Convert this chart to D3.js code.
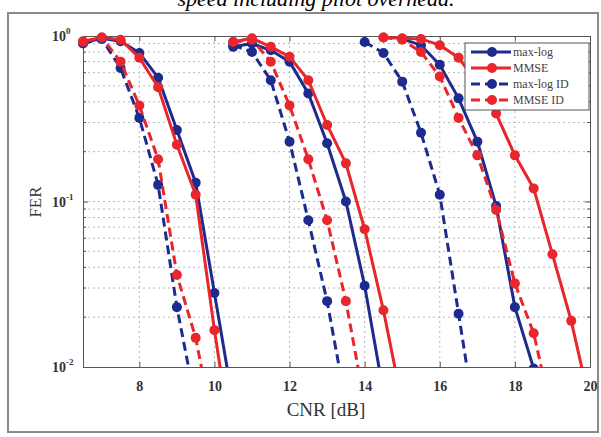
<!DOCTYPE html>
<html>
<head>
<meta charset="utf-8">
<script src="https://cdn.jsdelivr.net/npm/d3@7"></script>
<style>
  body { margin: 0; background: #fff; }
  svg { display: block; }
</style>
</head>
<body>
<svg width="601" height="437"></svg>
<script>
// CNR grids for the three groups of curves
const cnr1 = [6.5, 7, 7.5, 8, 8.5, 9, 9.5, 10, 10.5];
const cnr2 = [10.5, 11, 11.5, 12, 12.5, 13, 13.5, 14, 14.5, 15];
const cnr3 = [14, 14.5, 15, 15.5, 16, 16.5, 17, 17.5, 18, 18.5, 19, 19.5, 20];

// FER values (null = not plotted)
const maxlog1 = [0.91, 0.97, 0.93, 0.79, 0.56, 0.27, 0.13, 0.028, 0.006];
const mmse1 = [0.93, 0.98, 0.95, 0.74, 0.49, 0.22, 0.11, 0.0167, 0.003];
const maxlogID1 = [0.90, 0.96, 0.64, 0.32, 0.126, 0.023, 0.006, null, null];
const mmseID1 = [0.92, 0.98, 0.70, 0.38, 0.18, 0.036, 0.015, 0.004, null];

const maxlog2 = [0.86, 0.90, 0.82, 0.70, 0.45, 0.225, 0.10, 0.031, 0.007, null];
const mmse2 = [0.92, 0.97, 0.86, 0.75, 0.54, 0.29, 0.17, 0.068, 0.022, 0.006];
const maxlogID2 = [0.88, 0.80, 0.54, 0.23, 0.077, 0.025, 0.006, null, null, null];
const mmseID2 = [0.92, 0.95, 0.70, 0.38, 0.18, 0.077, 0.025, 0.006, null, null];

const maxlog3 = [null, null, 0.96, 0.88, 0.67, 0.42, 0.23, 0.094, 0.023, 0.0098, null, null, null];
const mmse3 = [null, 0.98, 0.97, 0.96, 0.88, 0.74, 0.52, 0.34, 0.19, 0.12, 0.048, 0.019, 0.006];
const maxlogID3 = [0.92, 0.79, 0.53, 0.26, 0.11, 0.021, 0.004, null, null, null, null, null, null];
const mmseID3 = [null, 0.98, 0.95, 0.80, 0.57, 0.32, 0.19, 0.089, 0.032, 0.016, 0.005, null, null];

const xTicks = [8, 10, 12, 14, 16, 18, 20];
const yTicks = [0.01, 0.1, 1];
const yTickExp = ['-2', '-1', '0'];

const blue = '#1d2b8e';
const red = '#e8262b';

const series = [
  { name: 'max-log', color: blue, dash: null, curves: [[cnr1, maxlog1], [cnr2, maxlog2], [cnr3, maxlog3]] },
  { name: 'MMSE', color: red, dash: null, curves: [[cnr1, mmse1], [cnr2, mmse2], [cnr3, mmse3]] },
  { name: 'max-log ID', color: blue, dash: '9,5', curves: [[cnr1, maxlogID1], [cnr2, maxlogID2], [cnr3, maxlogID3]] },
  { name: 'MMSE ID', color: red, dash: '9,5', curves: [[cnr1, mmseID1], [cnr2, mmseID2], [cnr3, mmseID3]] },
];

const pLeft = 83, pRight = 590, pTop = 36, pBottom = 367;

const svg = d3.select('svg');

// figure title (cut off at the top) and frame
svg.append('text')
  .attr('x', 316).attr('y', 6)
  .attr('text-anchor', 'middle')
  .style('font-family', '"Liberation Serif", serif')
  .style('font-style', 'italic')
  .style('font-size', '22px')
  .text('speed including pilot overhead.');

svg.append('rect')
  .attr('x', 8).attr('y', 13).attr('width', 590).attr('height', 419)
  .attr('fill', '#fff').attr('stroke', '#8a8a8a').attr('stroke-width', 2);

const x = d3.scaleLinear().domain([6.5, 20]).range([pLeft, pRight]);
const y = d3.scaleLog().domain([0.01, 1]).range([pBottom, pTop]);

svg.append('rect')
  .attr('x', pLeft).attr('y', pTop).attr('width', pRight - pLeft).attr('height', pBottom - pTop)
  .attr('fill', '#fff');

// grid
const minorY = [];
[0.01, 0.1].forEach((d) => { for (let k = 2; k <= 9; k++) minorY.push(d * k); });

svg.append('g')
  .selectAll('line')
  .data(xTicks.filter((d) => d < 20))
  .join('line')
  .attr('x1', (d) => x(d)).attr('x2', (d) => x(d))
  .attr('y1', pTop).attr('y2', pBottom)
  .attr('stroke', '#b8b8b8').attr('stroke-dasharray', '2,3');

svg.append('g')
  .selectAll('line')
  .data(minorY.concat([0.1]))
  .join('line')
  .attr('x1', pLeft).attr('x2', pRight)
  .attr('y1', (d) => y(d)).attr('y2', (d) => y(d))
  .attr('stroke', '#b8b8b8').attr('stroke-dasharray', '2,3');

// axes box with inward ticks
const axisStyle = (g) => {
  g.select('.domain').attr('stroke', '#555');
  g.selectAll('.tick line').attr('stroke', '#555');
};

svg.append('g')
  .attr('transform', `translate(0,${pBottom})`)
  .call(d3.axisBottom(x).tickValues(xTicks).tickSizeInner(-5).tickSizeOuter(0).tickPadding(14))
  .call(axisStyle)
  .call((g) => g.selectAll('text')
    .style('font-family', '"Liberation Serif", serif')
    .style('font-size', '14px')
    .style('font-weight', 'bold')
    .attr('fill', '#333'));

svg.append('g')
  .attr('transform', `translate(0,${pTop})`)
  .call(d3.axisTop(x).tickValues(xTicks).tickSizeInner(-5).tickSizeOuter(0).tickFormat(''))
  .call(axisStyle);

svg.append('g')
  .attr('transform', `translate(${pLeft},0)`)
  .call(d3.axisLeft(y).tickValues(yTicks).tickSizeInner(-5).tickSizeOuter(0).tickFormat(''))
  .call(axisStyle);

svg.append('g')
  .attr('transform', `translate(${pRight},0)`)
  .call(d3.axisRight(y).tickValues(yTicks).tickSizeInner(-5).tickSizeOuter(0).tickFormat(''))
  .call(axisStyle);

// minor y ticks on both sides
svg.append('g')
  .selectAll('path')
  .data(minorY)
  .join('path')
  .attr('d', (d) => `M${pLeft},${y(d)}h3M${pRight},${y(d)}h-3`)
  .attr('stroke', '#555');

// y tick labels 10^n
const yLab = svg.append('g')
  .selectAll('text')
  .data(yTicks)
  .join('text')
  .attr('x', 52).attr('y', (d) => y(d) + 5)
  .style('font-family', '"Liberation Serif", serif')
  .style('font-size', '14px')
  .style('font-weight', 'bold')
  .attr('fill', '#333');
yLab.append('tspan').text('10');
yLab.append('tspan')
  .attr('dy', -7)
  .style('font-size', '9px')
  .text((d, i) => yTickExp[i]);

// axis labels
svg.append('text')
  .attr('x', 326).attr('y', 416)
  .attr('text-anchor', 'middle')
  .style('font-family', '"Liberation Serif", serif')
  .style('font-size', '19px')
  .attr('fill', '#333')
  .text('CNR [dB]');

svg.append('text')
  .attr('transform', 'translate(41,202) rotate(-90)')
  .attr('text-anchor', 'middle')
  .style('font-family', '"Liberation Serif", serif')
  .style('font-size', '17px')
  .attr('fill', '#333')
  .text('FER');

// curves
svg.append('clipPath').attr('id', 'clip')
  .append('rect').attr('x', 0).attr('y', 0).attr('width', 601).attr('height', pBottom);

const plot = svg.append('g').attr('clip-path', 'url(#clip)');

const line = d3.line()
  .defined((d) => d[1] != null)
  .x((d) => x(d[0]))
  .y((d) => y(d[1]));

series.forEach((s) => {
  s.curves.forEach(([cnr, fer]) => {
    const pts = cnr.map((c, i) => [c, fer[i]]);
    plot.append('path')
      .datum(pts)
      .attr('d', line)
      .attr('fill', 'none')
      .attr('stroke', s.color)
      .attr('stroke-width', 3)
      .attr('stroke-dasharray', s.dash);
    plot.append('g')
      .selectAll('circle')
      .data(pts.filter((d) => d[1] != null && d[1] >= 0.0095))
      .join('circle')
      .attr('cx', (d) => x(d[0]))
      .attr('cy', (d) => y(d[1]))
      .attr('r', 5)
      .attr('fill', s.color);
  });
});

// legend
const legend = svg.append('g').attr('transform', 'translate(465,43)');
legend.append('rect')
  .attr('width', 124).attr('height', 67)
  .attr('fill', '#fff').attr('stroke', '#555');

const item = legend.selectAll('g.item')
  .data(series)
  .join('g')
  .attr('class', 'item')
  .attr('transform', (d, i) => `translate(0,${9 + i * 16})`);

item.append('line')
  .attr('x1', 6).attr('x2', 46)
  .attr('stroke', (d) => d.color)
  .attr('stroke-width', 3)
  .attr('stroke-dasharray', (d) => d.dash);
item.append('circle')
  .attr('cx', 27).attr('r', 5)
  .attr('fill', (d) => d.color);
item.append('text')
  .attr('x', 48).attr('y', 4)
  .style('font-family', '"Liberation Serif", serif')
  .style('font-size', '12px')
  .attr('fill', '#444')
  .text((d) => d.name);
</script>
</body>
</html>
